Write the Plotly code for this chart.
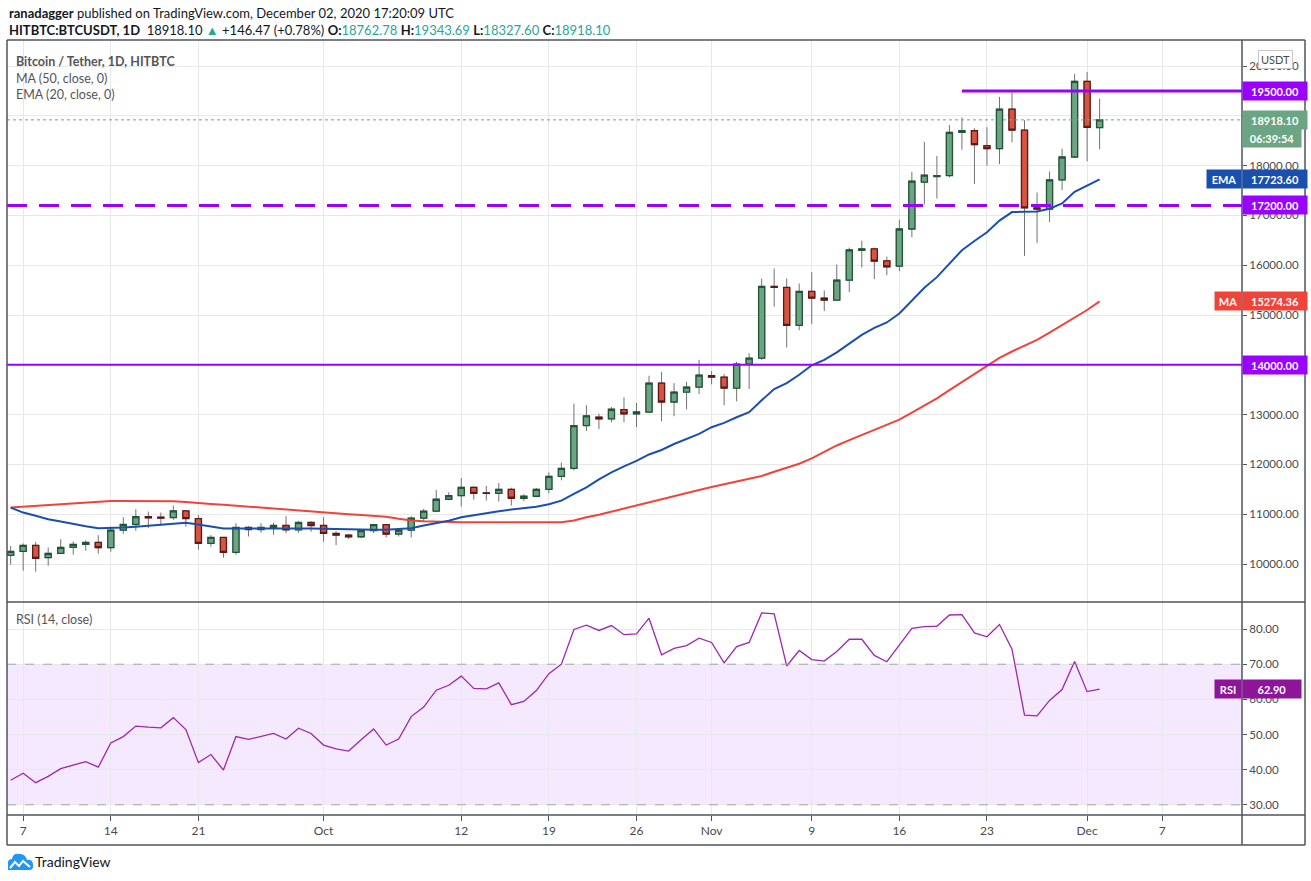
#!/usr/bin/env python3

# ---- LIBRARIES -------

import plotly.graph_objects as go
import pandas as pd

# ---- DATA ---------------------------------

# daily candles from 6 Sep 2020 to 2 Dec 2020
dates = pd.date_range("2020-09-06", "2020-12-02", freq="D")

opens = [
    10173, 10253, 10373, 10127, 10213, 10333, 10393, 10433, 10327, 10680, 10793, 10953, 10940,
    10933, 11067, 10913, 10413, 10533, 10233, 10733, 10693, 10733, 10773, 10687, 10833,
    10773, 10613, 10580, 10547, 10673, 10790, 10600, 10680, 10920, 11060, 11300, 11373, 11540,
    11430, 11420, 11500, 11320, 11360, 11500, 11760, 11920, 12780, 12950, 12913, 13100, 13013,
    13050, 13633, 13253, 13453, 13553,
    13780, 13753, 13533, 14013, 14133, 15573, 15553, 14793, 15473, 15340, 15300, 15700, 16300,
    16327, 16087, 15980, 16727, 17667, 17780, 17800, 18667, 18700, 18400, 18340, 19133, 18713,
    17153, 17127, 17713, 18173,
    19693, 18762.78,
]
highs = [
    10360, 10413, 10440, 10333, 10500, 10453, 10473, 10580, 10747, 10940, 11100, 11053, 11033,
    11173, 11080, 10980, 10580, 10540, 10820, 10760, 10820, 10827, 10960, 10860, 10860,
    10940, 10660, 10600, 10693, 10807, 10795, 10707, 10960, 11107, 11487, 11440, 11727, 11560,
    11567, 11627, 11533, 11400, 11527, 11840, 12040, 13220, 13190, 13020, 13153, 13347, 13233,
    13780, 13860, 13633, 13660, 14100,
    13873, 13813, 14060, 14233, 15733, 15933, 15733, 15633, 15860, 15493, 16013, 16353, 16493,
    16353, 16173, 16913, 17873, 18473, 18193, 18813, 18967, 18750, 18770, 19380, 19467, 18913,
    17460, 17880, 18340, 19840,
    19880, 19343.69,
]
lows = [
    9987, 9867, 9847, 9967, 10200, 10187, 10267, 10207, 10247, 10607, 10667, 10720, 10767,
    10887, 10747, 10287, 10347, 10127, 10187, 10553, 10627, 10587, 10620, 10627, 10647,
    10447, 10380, 10500, 10520, 10620, 10533, 10553, 10533, 10840, 11040, 11280, 11153, 11293,
    11273, 11253, 11173, 11260, 11340, 11420, 11680, 11880, 12670, 12707, 12847, 12847, 12747,
    13027, 12867, 12967, 13107, 13413,
    13607, 13187, 13267, 13513, 14100, 15167, 14347, 14693, 14820, 15080, 15280, 15460, 15953,
    15720, 15800, 15880, 16560, 17220, 17340, 17760, 18320, 17630, 18000, 18030, 18467, 16187,
    16447, 16867, 17507, 18150,
    18087, 18327.60,
]
closes = [
    10253, 10373, 10113, 10213, 10333, 10393, 10433, 10327, 10680, 10793, 10953, 10927, 10920,
    11067, 10913, 10413, 10533, 10233, 10733, 10693, 10733, 10773, 10687, 10833, 10773,
    10613, 10580, 10547, 10673, 10790, 10600, 10680, 10920, 11060, 11300, 11373, 11540, 11420,
    11420, 11500, 11320, 11360, 11500, 11760, 11920, 12780, 12975, 12913, 13107, 13013, 13053,
    13633, 13253, 13453, 13553, 13793,
    13753, 13533, 14013, 14133, 15573, 15555, 14793, 15473, 15340, 15300, 15700, 16307, 16327,
    16080, 15967, 16727, 17687, 17807, 17800, 18667, 18700, 18420, 18340, 19133, 18713, 17153,
    17127, 17713, 18173, 19693,
    18767, 18918.10,
]

# EMA (20, close) as drawn
ema20 = [
    11133, 11033, 10967, 10900, 10853, 10800, 10760, 10720, 10720, 10733, 10747, 10767, 10787,
    10820, 10827, 10793, 10747, 10713, 10713, 10713, 10720, 10727, 10727, 10720, 10713,
    10707, 10700, 10693, 10690, 10687, 10690, 10700, 10720, 10773, 10820, 10867, 10940, 10985,
    11027, 11060, 11093, 11120, 11150, 11200, 11273, 11407, 11540, 11700, 11840, 11960, 12070,
    12200, 12290, 12410, 12510, 12613,
    12747, 12833, 12947, 13047, 13287, 13513, 13633, 13800, 13990, 14100, 14250, 14430, 14600,
    14740, 14850, 15030, 15280, 15547, 15760, 16033, 16300, 16487, 16660, 16895, 17067, 17073,
    17080, 17133, 17240, 17473,
    17600, 17723.60,
]

# MA (50, close) as drawn
ma50 = [
    11133, 11150, 11165, 11180, 11195, 11210, 11225, 11245, 11265, 11267, 11268, 11268, 11265,
    11258, 11245, 11220, 11205, 11190, 11170, 11153, 11135, 11117, 11098, 11080, 11060,
    11040, 11020, 11000, 10985, 10973, 10950, 10907, 10873, 10860, 10850, 10845, 10840, 10840,
    10840, 10840, 10840, 10840, 10840, 10840, 10840, 10873, 10940, 10990, 11050, 11110, 11170,
    11230, 11290, 11350, 11420, 11485,
    11546, 11600, 11650, 11700, 11767, 11853, 11933, 12013, 12120, 12250, 12380, 12487, 12587,
    12700, 12800, 12900, 13040, 13180, 13327, 13493, 13653, 13820, 13980, 14140, 14267, 14387,
    14500, 14647, 14800, 14953,
    15100, 15274.36,
]

# RSI (14, close)
rsi14 = [
    37.0, 39.0, 36.3, 38.1, 40.3, 41.3, 42.3, 40.7, 47.6, 49.4, 52.4, 52.1, 51.9, 54.8, 51.4,
    42.0, 44.3, 39.9, 49.4, 48.6, 49.5, 50.3, 48.7, 51.8, 50.3,
    47.0, 45.9, 45.3, 48.5, 51.6, 47.0, 48.7, 55.1, 57.8, 62.6, 64.0, 66.6, 63.1, 63.0, 64.7,
    58.5, 59.4, 62.5, 67.3, 70.0, 79.9, 81.1, 79.6, 81.0, 78.4, 78.6, 83.1, 72.7, 74.5, 75.3,
    77.4,
    76.2, 70.4, 75.0, 76.2, 84.6, 84.3, 69.5, 73.9, 71.3, 70.9, 73.6, 77.1, 77.1, 72.5, 70.7,
    75.6, 80.2, 80.7, 80.8, 84.0, 84.1, 78.9, 77.8, 81.3, 74.3, 55.5, 55.3, 59.7, 62.8, 70.8,
    62.2, 62.90,
]

# horizontal levels drawn on the chart
level_resist = 19500
level_support = 17200
level_old = 14000
level_resist_start = "2020-11-21"

# time axis labels
tick_dates = ["2020-09-07", "2020-09-14", "2020-09-21", "2020-10-01", "2020-10-12", "2020-10-19",
              "2020-10-26", "2020-11-01", "2020-11-09", "2020-11-16", "2020-11-23", "2020-12-01",
              "2020-12-07"]
tick_text = ["7", "14", "21", "Oct", "12", "19", "26", "Nov", "9", "16", "23", "Dec", "7"]

price_ticks = list(range(10000, 20001, 1000))
rsi_ticks = [30, 40, 50, 60, 70, 80]

# ---- COLOURS ----------

UP = "#6ba583"
UP_LINE = "#225437"
DOWN = "#d75442"
DOWN_LINE = "#5b1a13"
WICK = "#737375"
PURPLE = "#9900ff"
EMA_C = "#1b4fae"
MA_C = "#f0443a"
RSI_C = "#9c27b0"
GRID = "#e8e8e8"
FRAME = "#50535e"
TXT = "#4a4a4a"
FONT = "Lato"


# pixel -> paper helpers (plot area is x 7..1242, y 40..815)
def pxx(p):
    return (p - 7) / 1235


def pxy(p):
    return (815 - p) / 775


# ---- GRAPH -------

fig = go.Figure()

# grey wicks
fig.add_trace(go.Candlestick(
    x=dates, open=opens, high=highs, low=lows, close=closes,
    increasing=dict(line=dict(color=WICK, width=1), fillcolor="rgba(0,0,0,0)"),
    decreasing=dict(line=dict(color=WICK, width=1), fillcolor="rgba(0,0,0,0)"),
    whiskerwidth=0, xaxis="x", yaxis="y", hoverinfo="skip", showlegend=False))

# bodies on top of the wicks
body_hi = [max(o, c) for o, c in zip(opens, closes)]
body_lo = [min(o, c) for o, c in zip(opens, closes)]
fig.add_trace(go.Candlestick(
    x=dates, open=opens, high=body_hi, low=body_lo, close=closes,
    increasing=dict(line=dict(color=UP_LINE, width=1.3), fillcolor=UP),
    decreasing=dict(line=dict(color=DOWN_LINE, width=1.3), fillcolor=DOWN),
    whiskerwidth=0, xaxis="x", yaxis="y", showlegend=False))

fig.add_trace(go.Scatter(x=dates, y=ma50, mode="lines", line=dict(color=MA_C, width=2),
                         xaxis="x", yaxis="y", showlegend=False))
fig.add_trace(go.Scatter(x=dates, y=ema20, mode="lines", line=dict(color=EMA_C, width=2),
                         xaxis="x", yaxis="y", showlegend=False))

# horizontal levels
x_end = "2020-12-13 09:00"
fig.add_trace(go.Scatter(x=[level_resist_start, x_end], y=[level_resist] * 2, mode="lines",
                         line=dict(color=PURPLE, width=3), xaxis="x", yaxis="y", showlegend=False))

fig.add_trace(go.Scatter(x=dates, y=rsi14, mode="lines", line=dict(color=RSI_C, width=1.3),
                         xaxis="x", yaxis="y2", showlegend=False))

shapes = [
    # RSI band
    dict(type="rect", xref="paper", yref="y2", x0=0, x1=1, y0=30, y1=70,
         fillcolor="rgba(155,39,255,0.10)", line=dict(width=0), layer="below"),
    dict(type="line", xref="paper", yref="y2", x0=0, x1=1, y0=70, y1=70,
         line=dict(color="#a8a3ad", width=1, dash="dash")),
    dict(type="line", xref="paper", yref="y2", x0=0, x1=1, y0=30, y1=30,
         line=dict(color="#a8a3ad", width=1, dash="dash")),
    # last price dotted line
    dict(type="line", xref="paper", yref="y", x0=0, x1=1, y0=closes[-1], y1=closes[-1],
         line=dict(color=UP, width=1, dash="dot")),
    # 14000 and 17200 levels
    dict(type="line", xref="paper", yref="y", x0=0, x1=1, y0=level_old, y1=level_old,
         line=dict(color=PURPLE, width=2)),
    dict(type="line", xref="paper", yref="y", x0=0, x1=1, y0=level_support, y1=level_support,
         line=dict(color=PURPLE, width=3, dash="20px,12px")),
]

# chart frame
fl = dict(color=FRAME, width=1.5)
for y0, y1, x0, x1 in [(40, 40, 7, 1305), (845, 845, 7, 1305), (602, 602, 7, 1305),
                       (815, 815, 7, 1305)]:
    shapes.append(dict(type="line", xref="paper", yref="paper", x0=pxx(x0), x1=pxx(x1),
                       y0=pxy(y0), y1=pxy(y1), line=fl))
for x in [7, 1242, 1305]:
    shapes.append(dict(type="line", xref="paper", yref="paper", x0=pxx(x), x1=pxx(x),
                       y0=pxy(40), y1=pxy(845), line=fl))

# TradingView logo (cloud)
shapes.append(dict(type="path", xref="paper", yref="paper", xsizemode="pixel", ysizemode="pixel",
                   xanchor=0, yanchor=pxy(862),
                   path="M 1,-8 L 22,-8 Q 27,-8 26,-2 Q 25,3 20,2 Q 18,9 12,8 Q 6,9 5,3 Q 0,3 1,-3 Z",
                   fillcolor="#2196f3", line=dict(width=0)))
shapes.append(dict(type="path", xref="paper", yref="paper", xsizemode="pixel", ysizemode="pixel",
                   xanchor=0, yanchor=pxy(862),
                   path="M 3,-6 L 8,0 L 12,-4 L 16,1 L 23,-5",
                   line=dict(color="white", width=2)))

ann = []


def note(text, x, y, **kw):
    d = dict(text=text, x=x, y=y, xref="paper", yref="paper", showarrow=False,
             xanchor="left", yanchor="middle", font=dict(family=FONT, size=13, color=TXT))
    d.update(kw)
    ann.append(d)


TEAL = "#2ba596"
note("<b>ranadagger</b> published on TradingView.com, December 02, 2020 17:20:09 UTC",
     pxx(7), pxy(13), font=dict(family=FONT, size=13, color="#131722"))
note("<b>HITBTC:BTCUSDT, 1D</b>  18918.10 <span style='color:%s'>▲</span> +146.47 (+0.78%%) "
     "<b>O:</b><span style='color:%s'>18762.78</span> <b>H:</b><span style='color:%s'>19343.69</span> "
     "<b>L:</b><span style='color:%s'>18327.60</span> <b>C:</b><span style='color:%s'>18918.10</span>"
     % (TEAL, TEAL, TEAL, TEAL, TEAL),
     pxx(7), pxy(30), font=dict(family=FONT, size=13, color="#131722"))
note("<b>Bitcoin / Tether, 1D, HITBTC</b>", pxx(14), pxy(61), font=dict(family=FONT, size=12.5, color="#555555"))
note("MA (50, close, 0)", pxx(14), pxy(78), font=dict(family=FONT, size=12.5, color="#555555"))
note("EMA (20, close, 0)", pxx(14), pxy(95), font=dict(family=FONT, size=12.5, color="#555555"))
note("RSI (14, close)", pxx(14), pxy(619), font=dict(family=FONT, size=12.5, color="#555555"))
note("TradingView", pxx(33), pxy(862), font=dict(family=FONT, size=14, color="#131722"))
note("USDT", pxx(1275), pxy(59), xanchor="center", bgcolor="white", bordercolor="#c8c8c8",
     borderwidth=1, borderpad=2, font=dict(family=FONT, size=11, color=TXT))


def tag(text, y, color, yref="y", side="left", width=60, yshift=0):
    ann.append(dict(text="<b>%s</b>" % text, x=1, y=y, xref="paper", yref=yref, showarrow=False,
                    xanchor=side, yanchor="middle", bgcolor=color, width=width, height=14,
                    borderpad=2, yshift=yshift, align="center",
                    font=dict(family=FONT, size=11, color="white")))


tag("%.2f" % level_resist, level_resist, PURPLE)
tag("%.2f" % closes[-1], closes[-1], UP)
tag("06:39:54", closes[-1], UP, yshift=-18, width=54)
tag("%.2f" % ema20[-1], ema20[-1], EMA_C)
tag("EMA", ema20[-1], EMA_C, side="right", width=30)
tag("%.2f" % level_support, level_support, PURPLE)
tag("%.2f" % ma50[-1], ma50[-1], MA_C)
tag("MA", ma50[-1], MA_C, side="right", width=22)
tag("%.2f" % level_old, level_old, PURPLE)
tag("%.2f" % rsi14[-1], rsi14[-1], "#8e1599", yref="y2", width=54)
tag("RSI", rsi14[-1], "#8e1599", yref="y2", side="right", width=22)

fig.update_layout(
    width=1311, height=881, autosize=False,
    margin=dict(l=7, r=69, t=40, b=66),
    paper_bgcolor="white", plot_bgcolor="white",
    font=dict(family=FONT, color=TXT),
    showlegend=False, hovermode=False,
    shapes=shapes, annotations=ann,
    xaxis=dict(type="date", range=["2020-09-05 17:00", x_end], anchor="y2",
               tickvals=tick_dates, ticktext=tick_text, showgrid=True, gridcolor=GRID,
               ticks="outside", ticklen=5, tickcolor=FRAME, tickfont=dict(size=12, color=TXT),
               showline=False, zeroline=False, rangeslider=dict(visible=False), fixedrange=True),
    yaxis=dict(domain=[213 / 775, 1], range=[9237, 20522], side="right", anchor="x",
               tickvals=price_ticks, tickformat=".2f", showgrid=True, gridcolor=GRID,
               ticks="outside", ticklen=4, tickcolor=FRAME, tickfont=dict(size=11.5, color=TXT),
               zeroline=False, showline=False),
    yaxis2=dict(domain=[0, 213 / 775], range=[27.1, 87.7], side="right", anchor="x",
                tickvals=rsi_ticks, tickformat=".2f", showgrid=True, gridcolor=GRID,
                ticks="outside", ticklen=4, tickcolor=FRAME, tickfont=dict(size=11.5, color=TXT),
                zeroline=False, showline=False),
)

# writes the page (page margin removed so the chart sits at the window corner, no toolbar)
fig.write_html("out.html", config={"displayModeBar": False},
               post_script="document.body.style.margin='0';")
